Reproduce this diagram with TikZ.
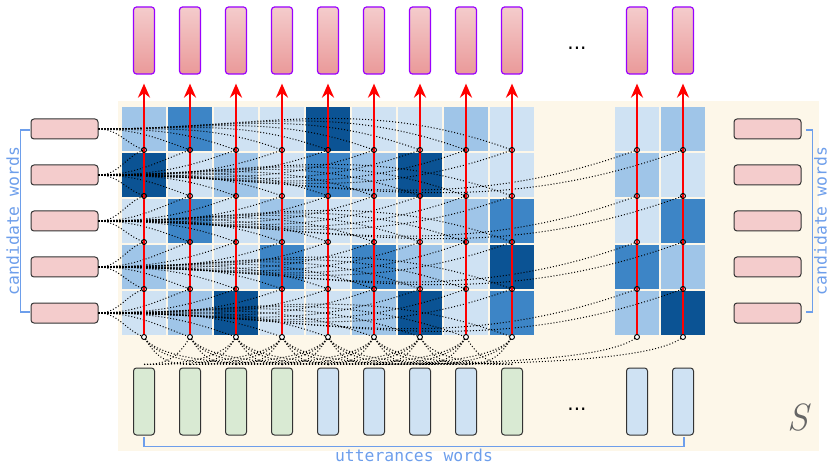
\documentclass[tikz,border=0pt]{standalone}
\usepackage{fontspec}
\newfontfamily\labelfont{DejaVu Sans Mono}
\newfontfamily\dotsfont{DejaVu Sans}
\usepackage{xcolor}
\definecolor{mycream}{HTML}{FDF7E9}
\definecolor{mypink}{HTML}{F4CCCC}
\definecolor{mypinkdark}{HTML}{EA9999}
\definecolor{myviolet}{HTML}{9900FF}
\definecolor{mygreen}{HTML}{D9EAD3}
\definecolor{mypale}{HTML}{CFE2F3}
\definecolor{mylabel}{HTML}{6D9EEB}
\definecolor{myrim}{HTML}{333333}
\definecolor{myshade1}{HTML}{CFE2F3}
\definecolor{myshade2}{HTML}{9FC5E8}
\definecolor{myshade3}{HTML}{3D85C6}
\definecolor{myshade4}{HTML}{0B5394}
\usepackage{tikz}
\usetikzlibrary{arrows.meta}

\tikzset{
  cell/.style={minimum size=44pt, inner sep=0pt, outer sep=0pt},
  candbox/.style={draw=myrim, line width=1pt, fill=mypink, rounded corners=3pt,
    minimum width=67pt, minimum height=20pt, inner sep=0pt},
  wordbox/.style={draw=myrim, line width=1pt, rounded corners=3pt,
    minimum width=21pt, minimum height=67pt, inner sep=0pt},
  outbox/.style={draw=myviolet, line width=1.2pt, rounded corners=3pt,
    top color=mypink, bottom color=mypinkdark,
    minimum width=21pt, minimum height=67pt, inner sep=0pt},
  ring/.style={circle, draw=black, line width=0.9pt, minimum size=5pt, inner sep=0pt},
  attn/.style={black, line width=1pt, dash pattern=on 1pt off 2pt},
  redarrow/.style={red, line width=2.8pt, -{Stealth[length=14pt,width=12pt]}},
  sidebar/.style={mylabel, line width=1.2pt},
  sidetext/.style={mylabel, font=\labelfont\fontsize{16.4}{18}\selectfont, inner sep=0pt},
  skip/.style={font=\dotsfont\fontsize{20}{22}\selectfont, inner sep=0pt},
}

\begin{document}
\begin{tikzpicture}[x=1pt,y=1pt]
      \useasboundingbox (0,0) rectangle (830,464);
      \fill[mycream] (118,13) rectangle (819,363);

      % columns, rows and levels of the rings
      \foreach \x [count=\j] in {144,190,236,282,328,374,420,466,512,637,683}
        \coordinate (col-\j) at (\x,0);
      \foreach \y [count=\k] in {335,289,243,197,151}
        \coordinate (row-\k) at (0,\y);
      \foreach \y [count=\k] in {314,268,222,175,127}
        \coordinate (lvl-\k) at (0,\y);
      \coordinate (candL) at (64.5,0);
      \coordinate (candR) at (767.5,0);
      \coordinate (uttrow) at (0,62.5);
      \coordinate (outrow) at (0,423.5);

      % score matrix
      \foreach \scores [count=\k] in {{2,3,1,1,4,1,1,2,1,1,2},{4,1,2,1,3,2,4,1,1,2,1},
          {1,3,1,2,1,1,1,2,3,1,3},{2,1,1,3,1,3,2,1,4,3,2},{1,2,4,1,1,2,4,1,3,2,4}}
        \foreach \v [count=\j] in \scores
          \node[cell, fill=myshade\v] (cell-\k-\j) at (col-\j |- row-\k) {};

      \foreach \j in {1,...,11}
        \foreach \k in {1,...,5}
          \coordinate (dot-\j-\k) at (col-\j |- lvl-\k);

      % words
      \foreach \k in {1,...,5} {
        \node[candbox] (cand-\k) at (candL |- row-\k) {};
        \node[candbox] (candr-\k) at (candR |- row-\k) {};
      }
      \foreach \j/\c in {1/mygreen,2/mygreen,3/mygreen,4/mygreen,5/mypale,6/mypale,
          7/mypale,8/mypale,9/mygreen,10/mypale,11/mypale} {
        \node[wordbox, fill=\c] (utt-\j) at (col-\j |- uttrow) {};
        \node[outbox] (out-\j) at (col-\j |- outrow) {};
      }
      \node[skip, anchor=base] (dots-top) at (577,414) {...};
      \node[skip, anchor=base] (dots-bottom) at (577,54) {...};
      \node[text=black!60, inner sep=0pt] (set-S) at (798,46)
        {\fontsize{38}{40}\selectfont\itshape S};

      % dotted links
      \foreach \k in {1,...,5}
        \foreach \j in {1,...,9}
          \draw[attn] (cand-\k.east) to[out=0,in=160] (dot-\j-\k);
      \foreach \k [evaluate=\k as \u using int(\k-1)] in {2,...,5}
        \foreach \j in {1,...,11}
          \draw[attn] (cand-\k.east) to[out=0,in=200] (dot-\j-\u);
      \foreach \i in {1,...,9}
        \foreach \j in {1,...,9} {
          \ifnum\i<\j \ifnum\numexpr\j-\i\relax<4
            \draw[attn] ([yshift=3pt]utt-\i.north) to[out=0,in=240,in distance=25pt] (dot-\j-5);
          \fi\fi
          \ifnum\i>\j \ifnum\numexpr\i-\j\relax<4
            \draw[attn] ([yshift=3pt]utt-\i.north) to[out=180,in=300,in distance=25pt] (dot-\j-5);
          \fi\fi
        }
      \draw[attn] ([yshift=3pt]utt-5.north) to[out=0,in=220,in distance=40pt] (dot-10-5);
      \draw[attn] ([yshift=3pt]utt-6.north) to[out=0,in=220,in distance=40pt] (dot-11-5);

      % red arrows and rings
      \foreach \j in {1,...,11}
        \draw[redarrow, shorten <=2.5pt, shorten >=9pt] (dot-\j-5) -- (out-\j);
      \foreach \j in {1,...,11} {
        \foreach \k in {1,...,4}
          \node[ring] (ring-\j-\k) at (dot-\j-\k) {};
        \node[ring, fill=white] (ring-\j-5) at (dot-\j-5) {};
      }

      % labels
      \coordinate (barL-top) at (30,334);
      \coordinate (barL-bot) at (30,152);
      \draw[sidebar] (barL-top) -| (20.7,243) |- (barL-bot);
      \node[sidetext, rotate=90, anchor=base] (cand-label) at (19,243) {candidate words};
      \coordinate (barR-top) at (806,334);
      \coordinate (barR-bot) at (806,152);
      \draw[sidebar] (barR-top) -| (812.7,243) |- (barR-bot);
      \node[sidetext, rotate=90, anchor=base] (candr-label) at (826.5,243) {candidate words};
      \coordinate (barB-left) at (144,27);
      \coordinate (barB-right) at (684,27);
      \draw[sidebar] (barB-left) |- (414,17.3) -| (barB-right);
      \node[sidetext, anchor=base] (utt-label) at (414,2.5) {utterances words};
\end{tikzpicture}
\end{document}
